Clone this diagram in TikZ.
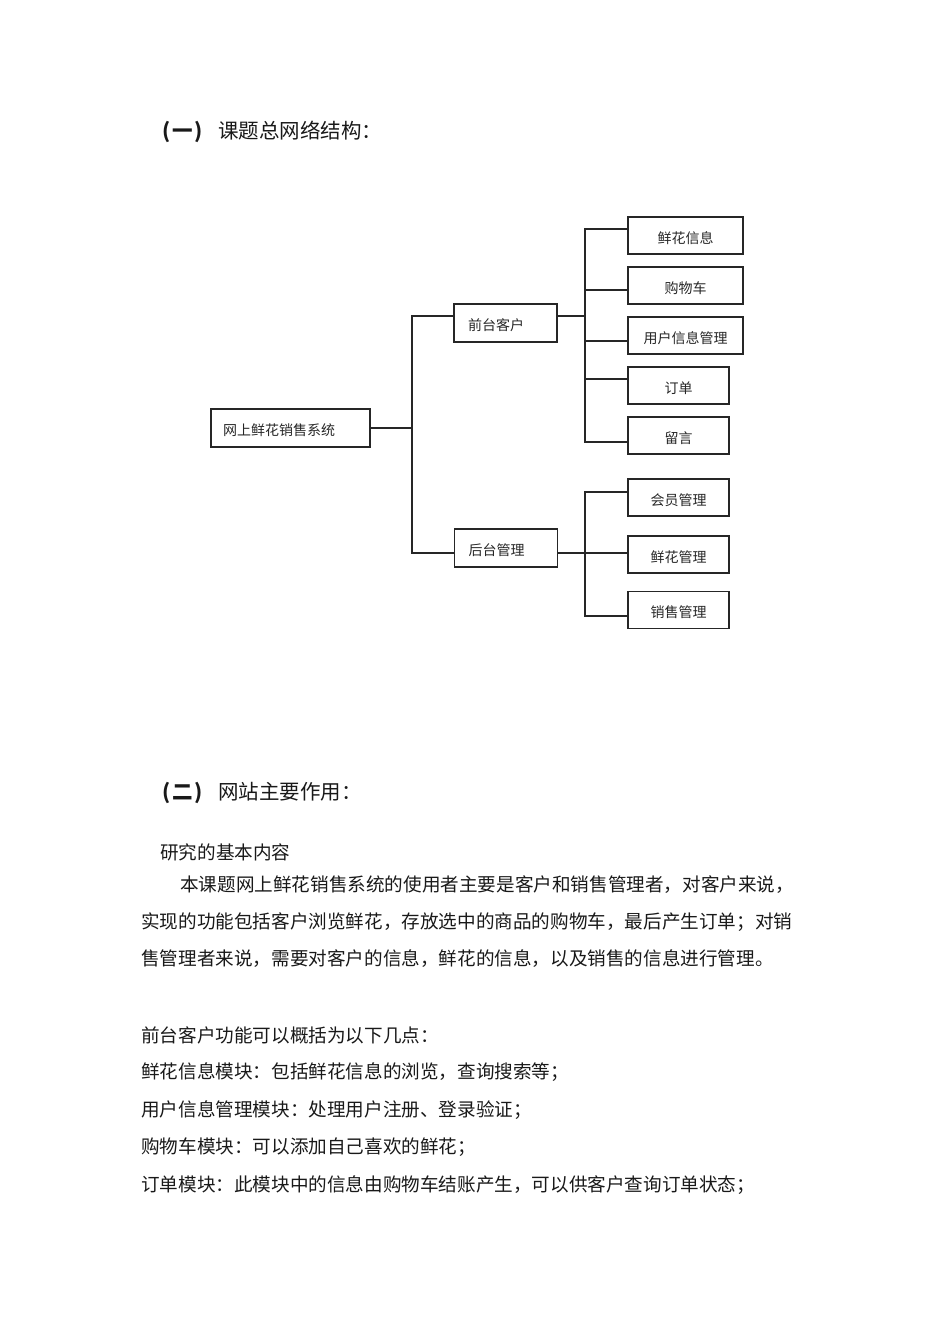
\documentclass[tikz,border=0pt]{standalone}
\usepackage{fontspec}
\newfontfamily\cjk{Noto Sans CJK SC}
\usetikzlibrary{positioning}

\begin{document}
\begin{tikzpicture}[x=1pt,y=-1pt,
					box/.style={draw=black!85, line width=1.3pt, minimum height=37pt, inner sep=0pt, text height=17pt, text depth=2pt, text=black!85, font=\cjk\fontsize{14}{16}\selectfont},
					link/.style={draw=black!85, line width=1.2pt},
					head/.style={anchor=west, inner sep=0pt, text=black!90, font=\cjk\fontsize{20.5}{24}\selectfont},
					body/.style={anchor=west, inner sep=0pt, text=black!90, font=\cjk\fontsize{18.6}{22}\selectfont},
				]
					\useasboundingbox (0,0) rectangle (950,1344);
					
					\node[head] (title1) at (162,132) {\makebox[56pt][l]{\bfseries(\hspace{2pt}一\hspace{2pt})}课题总网络结构：};
					
					% tree
					\node[box, text width=135pt, inner xsep=12pt, align=left, minimum height=38pt] (root) at (290.5,428) {网上鲜花销售系统};
					\node[box, text width=75pt, inner xsep=14pt, align=left, minimum height=38pt] (front) at (505.5,323) {前台客户};
					\node[box, text width=75pt, inner xsep=14pt, align=left, minimum height=38pt] (back) at (506,548) {后台管理};
					
					\node[box, minimum width=115pt] (flower) at (685.5,235.5) {鲜花信息};
					\node[box, minimum width=115pt] (cart) at (685.5,285.5) {购物车};
					\node[box, minimum width=115pt] (user) at (685.5,335.5) {用户信息管理};
					\node[box, minimum width=101pt] (order) at (678.5,385.5) {订单};
					\node[box, minimum width=101pt] (message) at (678.5,435.5) {留言};
					
					\node[box, minimum width=101pt] (member) at (678.5,497.5) {会员管理};
					\node[box, minimum width=101pt] (flowermgr) at (678.5,554.5) {鲜花管理};
					\node[box, minimum width=101pt] (salesmgr) at (678.5,610) {销售管理};
					
					\coordinate (trunk) at (412,428);
					\coordinate (ftrunk) at (585,316);
					\coordinate (btrunk) at (585,553);
					
					\draw[link] (root.east) -- (trunk);
					\draw[link] ([yshift=7pt]front.west) -| (trunk) |- ([yshift=-5pt]back.west);
					
					\draw[link] ([yshift=7pt]front.east) -- (ftrunk);
					\draw[link] (ftrunk) |- ([yshift=6.5pt]flower.west);
					\draw[link] (ftrunk) |- ([yshift=-4.5pt]cart.west);
					\draw[link] (ftrunk) |- ([yshift=-5.5pt]user.west);
					\draw[link] (ftrunk) |- ([yshift=6.5pt]order.west);
					\draw[link] (ftrunk) |- ([yshift=-6.5pt]message.west);
					
					\draw[link] ([yshift=-5pt]back.east) -- (btrunk);
					\draw[link] (btrunk) |- ([yshift=5.5pt]member.west);
					\draw[link] (btrunk) |- ([yshift=1.5pt]flowermgr.west);
					\draw[link] (btrunk) |- ([yshift=-6pt]salesmgr.west);
					
					% text
					\node[head] (title2) at (162,793) {\makebox[56pt][l]{\bfseries(\hspace{2pt}二\hspace{2pt})}网站主要作用：};
					\node[body] (intro) at (160,852) {研究的基本内容};
					\node[body] (para1) at (180,885) {本课题网上鲜花销售系统的使用者主要是客户和销售管理者，对客户来说，};
					\node[body] (para2) at (141,922) {实现的功能包括客户浏览鲜花，存放选中的商品的购物车，最后产生订单；对销};
					\node[body] (para3) at (141,959) {售管理者来说，需要对客户的信息，鲜花的信息，以及销售的信息进行管理。};
					\node[body] (list0) at (141,1035) {前台客户功能可以概括为以下几点：};
					\node[body] (list1) at (141,1072) {鲜花信息模块：包括鲜花信息的浏览，查询搜索等；};
					\node[body] (list2) at (141,1110) {用户信息管理模块：处理用户注册、登录验证；};
					\node[body] (list3) at (141,1147) {购物车模块：可以添加自己喜欢的鲜花；};
					\node[body] (list4) at (141,1185) {订单模块：此模块中的信息由购物车结账产生，可以供客户查询订单状态；};
				\end{tikzpicture}
\end{document}
